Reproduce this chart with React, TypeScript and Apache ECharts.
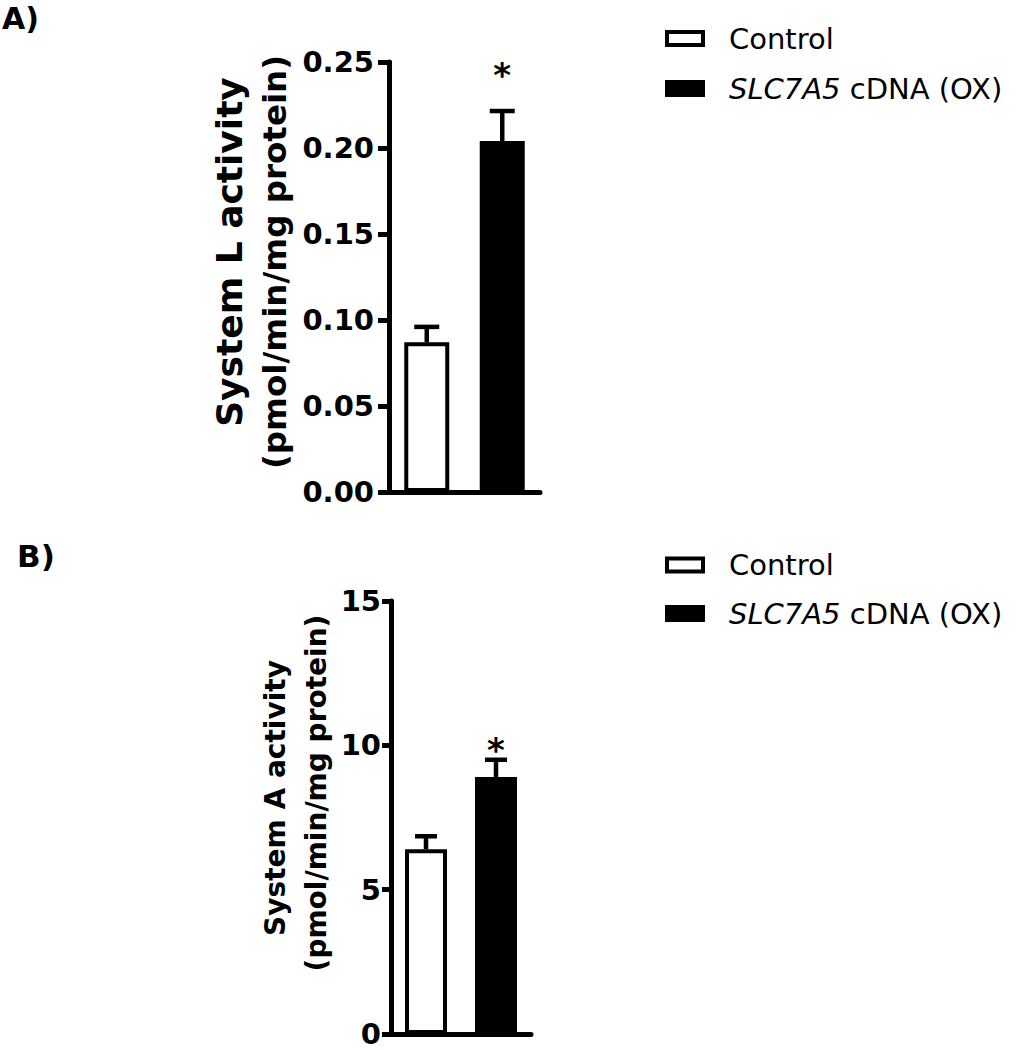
import React, { useEffect, useRef } from "react";
import * as echarts from "echarts";

// ---- data ----
const categories = ["Control", "SLC7A5 cDNA (OX)"];
const meanA = [0.087, 0.204];
const errA = [0.009, 0.0175];
const sigA = ["", "*"];
const ticksA = [0, 0.05, 0.1, 0.15, 0.2, 0.25];

const meanB = [6.4, 8.9];
const errB = [0.45, 0.6];
const sigB = ["", "*"];
const ticksB = [0, 5, 10, 15];

const titleA = ["System L activity", "(pmol/min/mg protein)"];
const titleB = ["System A activity", "(pmol/min/mg protein)"];
const panelLabels = ["A)", "B)"];
const legendLabels = ["Control", "{i|SLC7A5} cDNA (OX)"];

const FONT = "DejaVu Sans";

function yAxis(gridIndex: number, ticks: number[], digits: number, tickLen: number, margin: number) {
  return {
    gridIndex,
    type: "value",
    min: ticks[0],
    max: ticks[ticks.length - 1],
    interval: ticks[1] - ticks[0],
    axisLine: { show: true, lineStyle: { color: "#000", width: 5 } },
    axisTick: { show: true, length: tickLen, lineStyle: { color: "#000", width: 5 } },
    splitLine: { show: false },
    axisLabel: {
      margin,
      color: "#000",
      fontSize: 29,
      fontWeight: "bold",
      fontFamily: FONT,
      formatter: (v: number) => v.toFixed(digits),
    },
  };
}

function bars(idx: number, means: number[], barWidth: number) {
  return [
    {
      name: categories[0],
      type: "bar",
      xAxisIndex: idx,
      yAxisIndex: idx,
      barWidth,
      barGap: "-100%",
      data: [means[0], null],
      itemStyle: { color: "#fff", borderColor: "#000", borderWidth: 4 },
      z: 2,
    },
    {
      name: categories[1],
      type: "bar",
      xAxisIndex: idx,
      yAxisIndex: idx,
      barWidth,
      barGap: "-100%",
      data: [null, means[1]],
      itemStyle: { color: "#000", borderColor: "#000", borderWidth: 4 },
      z: 2,
    },
  ];
}

function errSeries(idx: number, means: number[], errs: number[], sigs: string[], capW: number, starOffset: number) {
  return {
    type: "custom",
    xAxisIndex: idx,
    yAxisIndex: idx,
    z: 5,
    data: means.map((m, i) => [i, m, m + errs[i]]),
    renderItem: (params: any, api: any) => {
      const i = api.value(0);
      const base = api.coord([i, api.value(1)]);
      const top = api.coord([i, api.value(2)]);
      const s = sigs[params.dataIndex];
      const children: any[] = [
        {
          type: "line",
          shape: { x1: base[0], y1: base[1], x2: top[0], y2: top[1] },
          style: { stroke: "#000", lineWidth: 4.5 },
        },
        {
          type: "line",
          shape: { x1: top[0] - capW / 2, y1: top[1], x2: top[0] + capW / 2, y2: top[1] },
          style: { stroke: "#000", lineWidth: 4.5 },
        },
      ];
      if (s) {
        children.push({
          type: "text",
          x: top[0],
          y: top[1] - starOffset,
          style: {
            text: s,
            fill: "#000",
            fontSize: 34,
            fontWeight: "bold",
            fontFamily: FONT,
            align: "center",
            verticalAlign: "middle",
            textAlign: "center",
            textVerticalAlign: "middle",
          },
        });
      }
      return { type: "group", children };
    },
  };
}

function txt(text: string, x: number, y: number, fontSize: number, bold: boolean, opts: any = {}) {
  return {
    type: "text",
    x,
    y,
    rotation: opts.rotation || 0,
    style: {
      text,
      fill: "#000",
      fontSize,
      fontWeight: bold ? "bold" : "normal",
      fontFamily: FONT,
      align: opts.align || "left",
      verticalAlign: "middle",
      textAlign: opts.align || "left",
      textVerticalAlign: "middle",
      rich: opts.rich,
    },
  };
}

const LEG_FS = 29;
const richItalic = { i: { fontStyle: "italic", fontSize: LEG_FS, fontFamily: FONT, fill: "#000" } };

function legend(y1: number, y2: number) {
  return [
    { type: "rect", shape: { x: 667, y: y1 - 6.5, width: 36, height: 13 }, style: { fill: "#fff", stroke: "#000", lineWidth: 4 } },
    { type: "rect", shape: { x: 665, y: y2 - 8.5, width: 40, height: 17 }, style: { fill: "#000" } },
    txt(legendLabels[0], 729, y1, LEG_FS, false),
    txt(legendLabels[1], 729, y2, LEG_FS, false, { rich: richItalic }),
  ];
}

export default function App() {
  const ref = useRef<HTMLDivElement>(null);
  useEffect(() => {
    if (!ref.current) return;
    const chart = echarts.init(ref.current, null, { renderer: "svg" });
    const option: any = {
      animation: false,
      backgroundColor: "#fff",
      grid: [
        { left: 389, top: 62, width: 151, height: 430 },
        { left: 391, top: 601, width: 140, height: 433 },
      ],
      xAxis: [0, 1].map((i) => ({
        gridIndex: i,
        type: "category",
        data: categories,
        axisLine: { show: true, lineStyle: { color: "#000", width: 5 } },
        axisTick: { show: false },
        axisLabel: { show: false },
        splitLine: { show: false },
      })),
      yAxis: [yAxis(0, ticksA, 2, 11, 15), yAxis(1, ticksB, 0, 9, 10)],
      series: [
        ...bars(0, meanA, 45),
        errSeries(0, meanA, errA, sigA, 25, 36),
        ...bars(1, meanB, 42),
        errSeries(1, meanB, errB, sigB, 22, 10),
      ],
      graphic: [
        txt(panelLabels[0], 2, 18, 30, true),
        txt(panelLabels[1], 17, 556, 31, true),
        txt(titleA[0], 229, 252, 36, true, { rotation: Math.PI / 2, align: "center" }),
        txt(titleA[1], 275, 262, 32.5, true, { rotation: Math.PI / 2, align: "center" }),
        txt(titleB[0], 275, 798, 28, true, { rotation: Math.PI / 2, align: "center" }),
        txt(titleB[1], 316, 793, 28, true, { rotation: Math.PI / 2, align: "center" }),
        ...legend(38.5, 88.5),
        ...legend(565, 613.5),
      ],
    };
    chart.setOption(option);
    return () => chart.dispose();
  }, []);
  return (
    <div
      ref={ref}
      style={{ position: "absolute", left: 0, top: 0, width: 1016, height: 1050, background: "#fff" }}
    />
  );
}
